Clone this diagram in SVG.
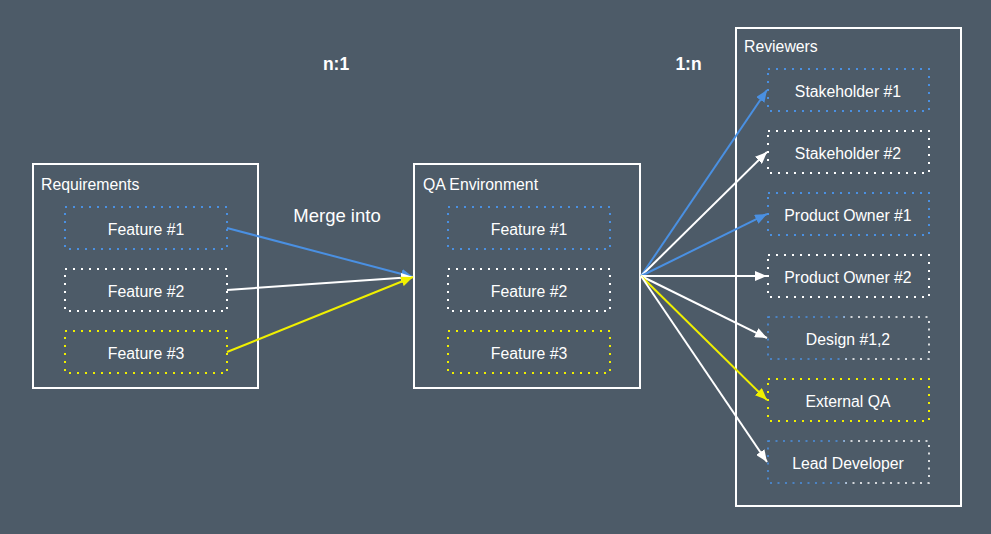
<svg xmlns="http://www.w3.org/2000/svg" width="991" height="534" viewBox="0 0 991 534">
<style>
text{font-family:"Liberation Sans",Arial,sans-serif;fill:#ffffff}
.lbl{font-size:15.8px}
.ctr{font-size:15.8px;text-anchor:middle}
.big{font-size:18.5px;text-anchor:middle}
.bold{font-size:17.5px;font-weight:bold;text-anchor:middle}
.frame{fill:none;stroke:#ffffff;stroke-width:2}
.dot{fill:none;stroke-width:2;stroke-dasharray:2 6}
.blue{stroke:#4a90e2}
.white{stroke:#ffffff}
.yellow{stroke:#f0f000}
.mix{fill:none;stroke-width:1.6;stroke-dasharray:2 5.5;stroke:url(#mixg)}
.cb{fill:none;stroke-width:2;stroke:#4a90e2}
.cw{fill:none;stroke-width:2;stroke:#ffffff}
.cy{fill:none;stroke-width:2;stroke:#f0f000}
</style>
<defs>
<linearGradient id="mixg" x1="0" y1="0" x2="1" y2="0">
<stop offset="0" stop-color="#4a90e2"/>
<stop offset="0.45" stop-color="#4a90e2"/>
<stop offset="0.5" stop-color="#ffffff"/>
<stop offset="1" stop-color="#ffffff"/>
</linearGradient>
<marker id="ab" viewBox="0 0 12 10" refX="12" refY="5" markerWidth="12" markerHeight="10" markerUnits="userSpaceOnUse" orient="auto"><path d="M0,0 L12,5 L0,10 Z" fill="#4a90e2"/></marker>
<marker id="aw" viewBox="0 0 12 10" refX="12" refY="5" markerWidth="12" markerHeight="10" markerUnits="userSpaceOnUse" orient="auto"><path d="M0,0 L12,5 L0,10 Z" fill="#ffffff"/></marker>
<marker id="ay" viewBox="0 0 12 10" refX="12" refY="5" markerWidth="12" markerHeight="10" markerUnits="userSpaceOnUse" orient="auto"><path d="M0,0 L12,5 L0,10 Z" fill="#f0f000"/></marker>
</defs>
<rect width="991" height="534" fill="#4d5b68"/>

<text class="bold" x="336" y="70">n:1</text>
<text class="bold" x="688.5" y="70">1:n</text>
<text class="big" x="337" y="222">Merge into</text>

<g id="requirements">
<rect class="frame" x="33" y="164" width="225" height="224"/>
<text class="lbl" x="41" y="190">Requirements</text>
<g id="req-f1"><rect class="dot blue" x="65" y="207" width="162" height="42"/><text class="ctr" x="146" y="234.5">Feature #1</text></g>
<g id="req-f2"><rect class="dot white" x="65" y="269" width="162" height="42"/><text class="ctr" x="146" y="296.5">Feature #2</text></g>
<g id="req-f3"><rect class="dot yellow" x="65" y="331" width="162" height="42"/><text class="ctr" x="146" y="358.5">Feature #3</text></g>
</g>

<g id="qa">
<rect class="frame" x="414" y="164" width="226" height="224"/>
<text class="lbl" x="423" y="190">QA Environment</text>
<g id="qa-f1"><rect class="dot blue" x="448" y="207" width="162" height="42"/><text class="ctr" x="529" y="234.5">Feature #1</text></g>
<g id="qa-f2"><rect class="dot white" x="448" y="269" width="162" height="42"/><text class="ctr" x="529" y="296.5">Feature #2</text></g>
<g id="qa-f3"><rect class="dot yellow" x="448" y="331" width="162" height="42"/><text class="ctr" x="529" y="358.5">Feature #3</text></g>
</g>

<g id="reviewers">
<rect class="frame" x="736" y="28" width="225" height="478"/>
<text class="lbl" x="744" y="52">Reviewers</text>
<g id="rev-sh1"><rect class="dot blue" x="768" y="69" width="161" height="42"/><text class="ctr" x="848" y="96.5">Stakeholder #1</text></g>
<g id="rev-sh2"><rect class="dot white" x="768" y="131" width="161" height="42"/><text class="ctr" x="848" y="158.5">Stakeholder #2</text></g>
<g id="rev-po1"><rect class="dot blue" x="768" y="193" width="161" height="42"/><text class="ctr" x="848" y="220.5">Product Owner #1</text></g>
<g id="rev-po2"><rect class="dot white" x="768" y="255" width="161" height="42"/><text class="ctr" x="848" y="282.5">Product Owner #2</text></g>
<g id="rev-design"><rect class="mix" x="768" y="317" width="161" height="42"/><text class="ctr" x="848" y="344.5">Design #1,2</text></g>
<g id="rev-extqa"><rect class="dot yellow" x="768" y="379" width="161" height="42"/><text class="ctr" x="848" y="406.5">External QA</text></g>
<g id="rev-lead"><rect class="mix" x="768" y="441" width="161" height="42"/><text class="ctr" x="848" y="468.5">Lead Developer</text></g>
</g>

<g id="connectors">
<line class="cb" x1="227" y1="228" x2="413" y2="277" marker-end="url(#ab)"/>
<line class="cw" x1="227" y1="290" x2="413" y2="277" marker-end="url(#aw)"/>
<line class="cy" x1="227" y1="352" x2="413" y2="277" marker-end="url(#ay)"/>
<line class="cb" x1="641" y1="276" x2="767" y2="90" marker-end="url(#ab)"/>
<line class="cw" x1="641" y1="276" x2="767" y2="152" marker-end="url(#aw)"/>
<line class="cb" x1="641" y1="276" x2="767" y2="214" marker-end="url(#ab)"/>
<line class="cw" x1="641" y1="276" x2="767" y2="276" marker-end="url(#aw)"/>
<line class="cw" x1="641" y1="276" x2="767" y2="338" marker-end="url(#aw)"/>
<line class="cy" x1="641" y1="276" x2="767" y2="400" marker-end="url(#ay)"/>
<line class="cw" x1="641" y1="276" x2="767" y2="462" marker-end="url(#aw)"/>
</g>
</svg>
